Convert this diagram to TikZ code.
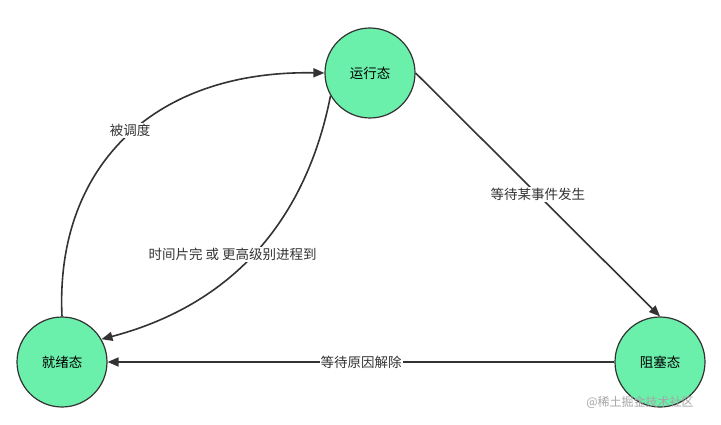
\documentclass[tikz,border=0pt]{standalone}
\usepackage{fontspec}
\setmainfont{Noto Sans CJK SC}
\usetikzlibrary{arrows.meta}
\definecolor{stategreen}{HTML}{6AF0AA}
\definecolor{linec}{HTML}{333333}
\tikzset{
  state/.style={circle,draw=linec,line width=1.2pt,fill=stategreen,minimum size=90pt,inner sep=0pt,font=\fontsize{13.5pt}{15pt}\selectfont},
  conn/.style={draw=linec,line width=1.6pt,-{Triangle[length=11pt,width=9pt]}},
  lab/.style={fill=white,inner sep=1pt,font=\fontsize{13.5pt}{15pt}\selectfont,text=linec}
}
\begin{document}
\begin{tikzpicture}[x=1pt,y=-1pt]
\useasboundingbox[fill=white] (0,0) rectangle (721,425);
\node[state] (run) at (370,73) {运行态};
\node[state] (ready) at (62,362) {就绪态};
\node[state] (block) at (660,362) {阻塞态};
\draw[conn] (run.east) -- node[lab,pos=0.5] {等待某事件发生} (block.north);
\draw[conn] (block.west) -- node[lab] {等待原因解除} (ready.east);
\draw[conn] (ready.north) .. controls (55,170) and (150,70) .. (run.west) node[lab,pos=0.5,xshift=5pt,yshift=8pt] {被调度};
\draw[conn] (run.210) .. controls (310,200) and (250,300) .. (ready.30) node[lab,pos=0.55,xshift=-20pt] {时间片完 或 更高级别进程到};
\node[font=\fontsize{12pt}{14pt}\selectfont,text=gray!70] (wm) at (640,402) {@稀土掘金技术社区};
\end{tikzpicture}
\end{document}
